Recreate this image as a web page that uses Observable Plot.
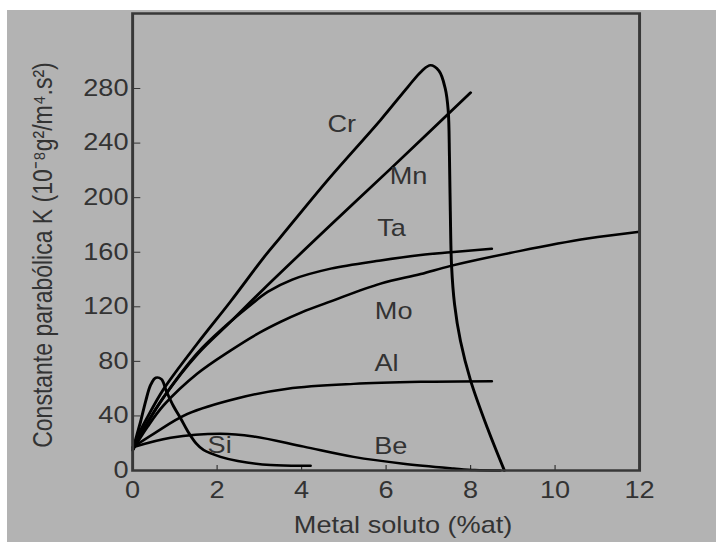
<!DOCTYPE html>
<html>
<head>
<meta charset="utf-8">
<script src="https://cdn.jsdelivr.net/npm/d3@7"></script>
<script src="https://cdn.jsdelivr.net/npm/@observablehq/plot@0.6"></script>
<style>
  html, body { margin: 0; padding: 0; background: #ffffff; width: 716px; height: 542px; overflow: hidden; }
  #bg { position: absolute; left: 7px; top: 10px; right: 0; bottom: 0; background: #b3b3b3; }
  #chart { position: absolute; left: 0; top: 0; transform: scaleX(1.18); transform-origin: 0 0; }
</style>
</head>
<body>
<div id="bg"></div>
<div id="chart"></div>
<script>
// Tick values and axis titles
const xTicks = [0, 2, 4, 6, 8, 10, 12];
const yTicks = [0, 40, 80, 120, 160, 200, 240, 280];
const xTitle = "Metal soluto (%at)";
const yTitle = "Constante parabólica K (10⁻⁸g²/m⁴.s²)";

// Series values (x = %at solute, y = K)
const crX = [0, 0.15, 0.35, 0.74, 1.53, 2.32, 3.1, 3.5, 4.62, 5.87, 6.51, 6.85, 7.05, 7.25, 7.4, 7.47, 7.5, 7.52, 7.55, 7.62, 7.76, 8.0, 8.4, 8.8];
const crY = [15, 27, 39, 60, 93, 124, 156, 171, 213, 257, 281, 293, 297, 293, 280, 264, 230, 190, 150, 122, 95, 66, 31, 0];

const mnX = [0, 0.35, 0.74, 1.53, 2.32, 3.1, 4.69, 6.1, 8.0];
const mnY = [15, 35, 54, 85, 109, 133, 180, 221, 277];

const taX = [0, 0.35, 0.74, 1.53, 2.2, 2.7, 3.2, 3.78, 4.69, 5.87, 6.82, 7.53, 8.5];
const taY = [15, 35, 54, 86, 106, 119, 131, 140, 148, 154, 158, 160, 162.5];

const moX = [0, 0.35, 0.74, 1.53, 2.32, 3.0, 3.5, 4.0, 4.69, 5.87, 6.82, 7.53, 9.18, 10.77, 12];
const moY = [15, 32, 48, 71, 88, 101, 109, 116, 124, 137, 144, 150, 161, 170, 175];

const alX = [0, 0.5, 1.3, 2.49, 3.67, 5.23, 6.82, 8.5];
const alY = [17, 27, 41.5, 53, 60, 63.5, 65, 65.5];

const beX = [0, 0.9, 2.08, 2.86, 4.05, 5.23, 6.41, 7.6, 8.1, 8.7];
const beY = [17, 24, 27, 25, 17.5, 10, 5, 1.5, 0.3, 0];

const siX = [0, 0.1, 0.19, 0.31, 0.43, 0.55, 0.68, 0.8, 0.97, 1.14, 1.3, 1.5, 1.68, 2.08, 2.49, 3.27, 4.21];
const siY = [15, 26, 36, 51, 63, 68, 67, 58, 47, 38, 29, 20, 15, 10, 7, 4, 3.5];

// Curve labels and where they sit (data units)
const labelNames = ["Cr", "Mn", "Ta", "Mo", "Al", "Be", "Si"];
const labelX = [4.95, 6.53, 6.13, 6.18, 6.01, 6.11, 2.06];
const labelY = [253.5, 215.5, 177.4, 116.6, 78.4, 17.6, 18.3];

// Build tables for the library
const series = [
  ["Cr", crX, crY], ["Mn", mnX, mnY], ["Ta", taX, taY], ["Mo", moX, moY],
  ["Al", alX, alY], ["Be", beX, beY], ["Si", siX, siY]
];
const rows = series.flatMap(([name, xs, ys]) => xs.map((x, i) => ({metal: name, x, y: ys[i]})));
const labels = labelNames.map((t, i) => ({text: t, x: labelX[i], y: labelY[i]}));

const ink = "#333333";
const chart = Plot.plot({
  width: 607,
  height: 542,
  marginLeft: 111.9,
  marginRight: 65.5,
  marginTop: 13,
  marginBottom: 72,
  style: {background: "transparent", fontFamily: "'Liberation Sans', Arial, sans-serif", fontSize: "23px", color: ink},
  x: {domain: [0, 12]},
  y: {domain: [0, 335]},
  marks: [
    Plot.axisX({ticks: xTicks, tickSize: -5, tickPadding: 16, label: null, stroke: ink, fill: ink, fontSize: 23, tickFormat: d => String(d)}),
    Plot.axisY({ticks: yTicks, tickSize: -7, tickPadding: 10.5, label: null, stroke: ink, fill: ink, fontSize: 23, tickFormat: d => String(d)}),
    Plot.line(rows, {x: "x", y: "y", z: "metal", curve: "catmull-rom", stroke: "#000", strokeWidth: 2.5}),
    Plot.text(labels, {x: "x", y: "y", text: "text", fill: ink, fontSize: 23}),
    Plot.frame({stroke: "#383838", strokeWidth: 2.5}),
    Plot.text([xTitle], {frameAnchor: "bottom", text: d => d, dy: 62, dx: 14.4, fill: ink, fontSize: 23}),
    Plot.text([yTitle], {frameAnchor: "left", text: d => d, rotate: -90, textAnchor: "middle", dx: -75.5, dy: 13, fill: ink, fontSize: 23})
  ]
});
document.getElementById("chart").appendChild(chart);
</script>
</body>
</html>
